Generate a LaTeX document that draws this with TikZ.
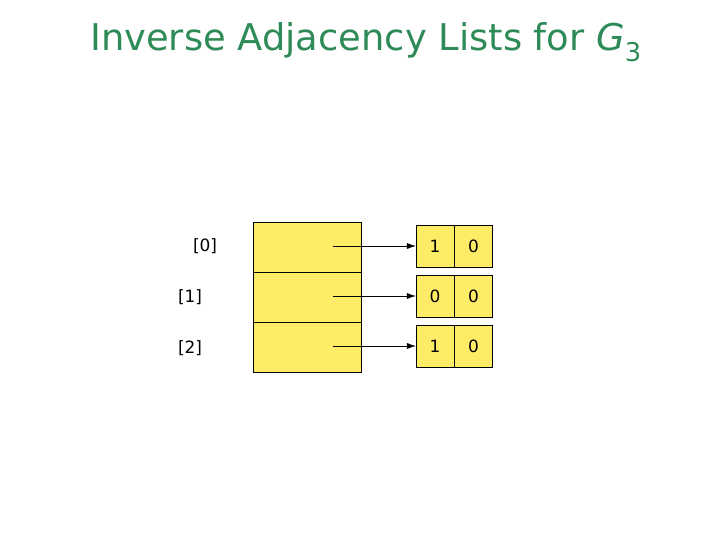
\documentclass[tikz,border=0pt]{standalone}
\usepackage{fontspec}
\setmainfont{DejaVu Sans}
\usetikzlibrary{arrows.meta}
\definecolor{titlegreen}{RGB}{46,139,87}
\definecolor{boxyellow}{RGB}{255,236,102}
\begin{document}
\begin{tikzpicture}[x=1bp,y=-1bp,
  slot/.style={draw,fill=boxyellow,minimum width=108bp,minimum height=50bp,inner sep=0pt},
  cell/.style={draw,fill=boxyellow,minimum width=38bp,minimum height=42bp,inner sep=0pt,font=\fontsize{17}{20}\selectfont},
  idx/.style={font=\fontsize{17}{20}\selectfont}]
\useasboundingbox (0,0) rectangle (720,540);
\node[text=titlegreen,font=\fontsize{37}{44}\selectfont] (title) at (366,42) {Inverse Adjacency Lists for \textit{G}\textsubscript{3}};
%
\foreach \i/\a/\b/\l/\lx in {0/1/0/{[0]}/205,1/0/0/{[1]}/190,2/1/0/{[2]}/190}{
  \node[slot] (s\i) at (307,247+50*\i) {};
  \node[idx] (l\i) at (\lx,246+51*\i) {\l};
  \node[cell] (a\i) at (435,246+50*\i) {\a};
  \node[cell,anchor=west] (b\i) at (a\i.east) {\b};
  \coordinate (p\i) at (333,246+50*\i);
  \draw[-{Latex[length=9bp,width=6bp]}] (p\i) -- (a\i.west);
}
\end{tikzpicture}
\end{document}
